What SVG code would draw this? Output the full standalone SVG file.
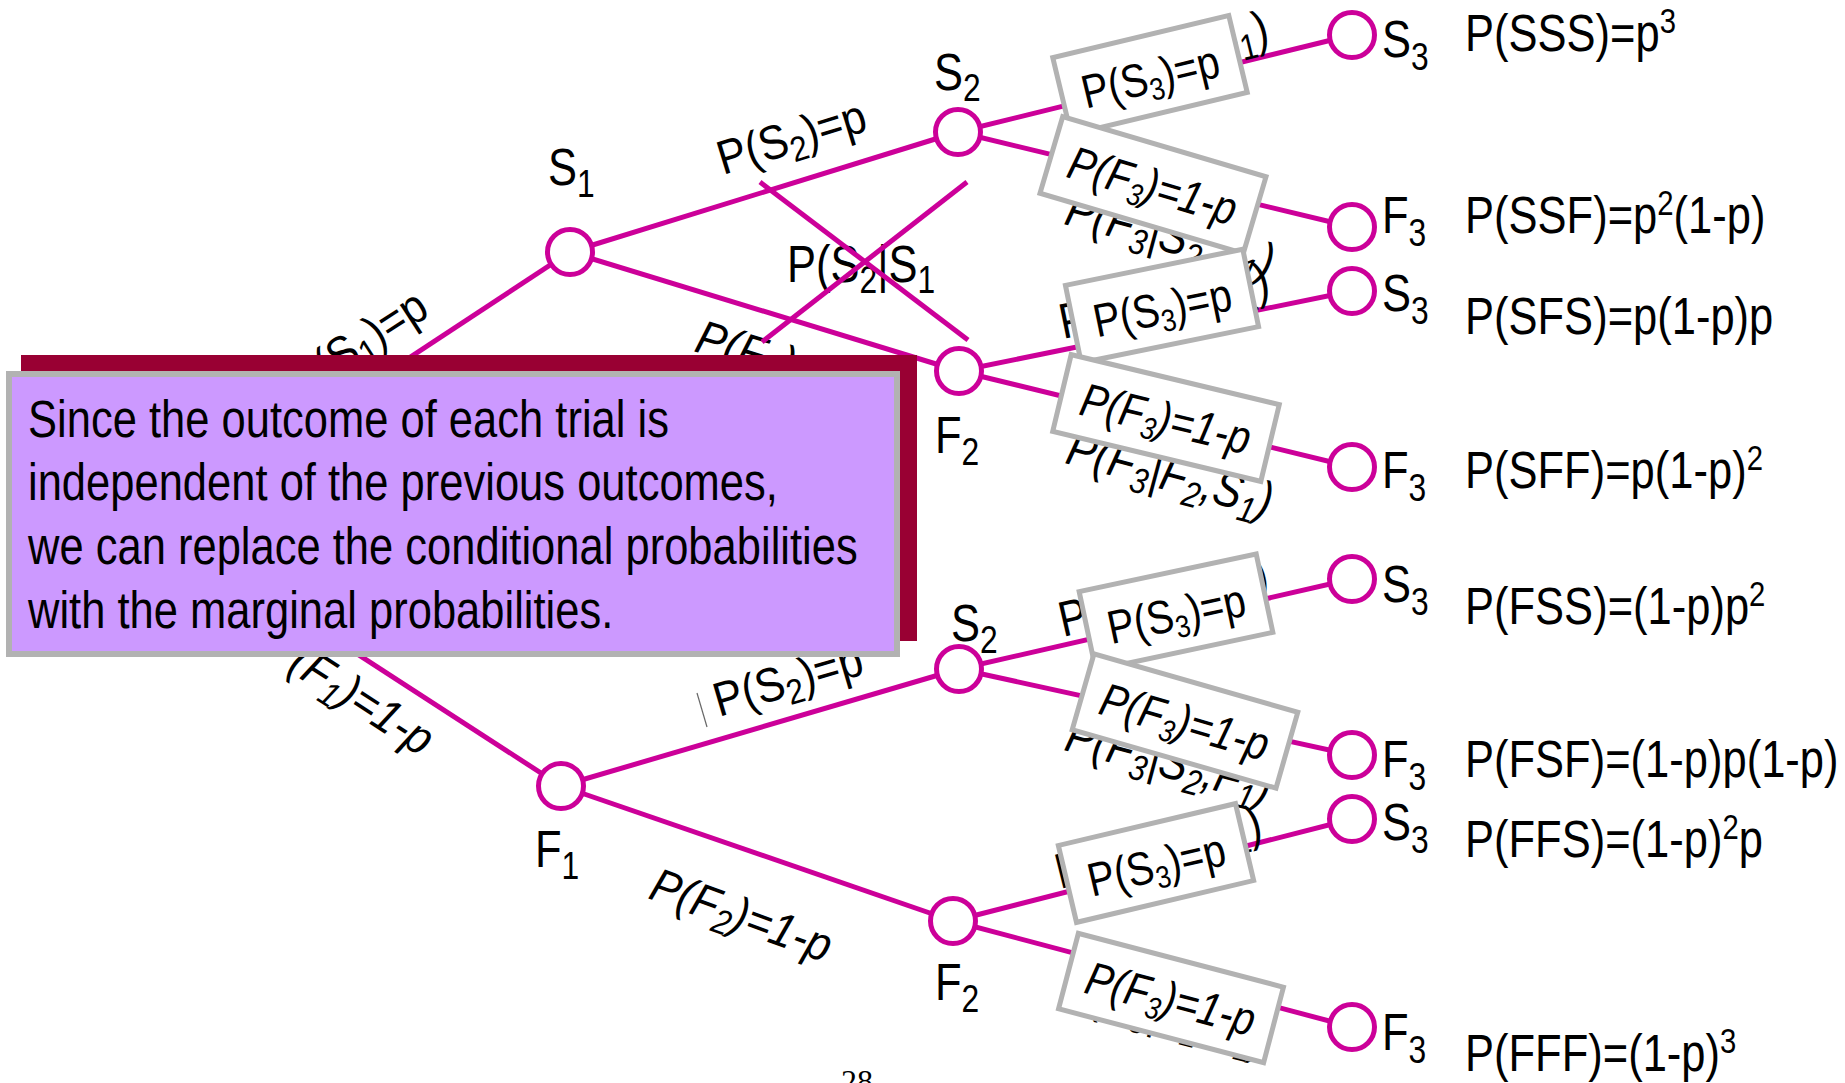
<svg xmlns="http://www.w3.org/2000/svg" width="1845" height="1083" viewBox="0 0 1845 1083">
<style>
.ln{stroke:#CC0099;stroke-width:5;fill:none}
.nd{fill:#fff;stroke:#CC0099;stroke-width:5}
.t{font-family:"Liberation Sans",Arial,Helvetica,sans-serif;fill:#000}
.i{font-style:italic}
.f52{font-size:52px}
.f50{font-size:50px}
.f48{font-size:48px}
.f47{font-size:47px}
.bx{fill:#fff;stroke:#B2B2B2;stroke-width:5}
</style>
<rect width="1845" height="1083" fill="#fff"/>

<g id="connectors">
<line class="ln" x1="157" y1="524" x2="570" y2="252"/>
<line class="ln" x1="157" y1="524" x2="561" y2="786"/>
<line class="ln" x1="570" y1="252" x2="958" y2="132"/>
<line class="ln" x1="570" y1="252" x2="959" y2="371"/>
<line class="ln" x1="561" y1="786" x2="959" y2="669"/>
<line class="ln" x1="561" y1="786" x2="953" y2="921"/>
<line class="ln" x1="958" y1="132" x2="1352" y2="35"/>
<line class="ln" x1="958" y1="132" x2="1352" y2="227"/>
<line class="ln" x1="959" y1="371" x2="1352" y2="291"/>
<line class="ln" x1="959" y1="371" x2="1352" y2="467"/>
<line class="ln" x1="959" y1="669" x2="1352" y2="579"/>
<line class="ln" x1="959" y1="669" x2="1352" y2="755"/>
<line class="ln" x1="953" y1="921" x2="1352" y2="819"/>
<line class="ln" x1="953" y1="921" x2="1352" y2="1027"/>
</g>

<g id="conditional-labels">
<text class="t f50" transform="translate(1062,95) rotate(-13.8) scale(0.85,1)">P(S<tspan font-size="36" dy="10">3</tspan><tspan dy="-10">|S</tspan><tspan font-size="36" dy="10">2</tspan><tspan dy="-10">,S</tspan><tspan font-size="36" dy="10">1</tspan><tspan dy="-10">)</tspan></text>
<text class="t f50 i" transform="translate(1063,224) rotate(15) scale(0.85,1)">P(F<tspan font-size="36" dy="10">3</tspan><tspan dy="-10">|S</tspan><tspan font-size="36" dy="10">2</tspan><tspan dy="-10">,S</tspan><tspan font-size="36" dy="10">1</tspan><tspan dy="-10">)</tspan></text>
<text class="t f50" transform="translate(1063,339) rotate(-11.5) scale(0.85,1)">P(S<tspan font-size="36" dy="10">3</tspan><tspan dy="-10">|F</tspan><tspan font-size="36" dy="10">2</tspan><tspan dy="-10">,S</tspan><tspan font-size="36" dy="10">1</tspan><tspan dy="-10">)</tspan></text>
<text class="t f50 i" transform="translate(1064,463) rotate(15) scale(0.85,1)">P(F<tspan font-size="36" dy="10">3</tspan><tspan dy="-10">|F</tspan><tspan font-size="36" dy="10">2</tspan><tspan dy="-10">,S</tspan><tspan font-size="36" dy="10">1</tspan><tspan dy="-10">)</tspan></text>
<text class="t f50" transform="translate(1063,637) rotate(-12.9) scale(0.85,1)">P(S<tspan font-size="36" dy="10">3</tspan><tspan dy="-10">|S</tspan><tspan font-size="36" dy="10">2</tspan><tspan dy="-10">,F</tspan><tspan font-size="36" dy="10">1</tspan><tspan dy="-10">)</tspan></text>
<text class="t f50 i" transform="translate(1063,750) rotate(15) scale(0.85,1)">P(F<tspan font-size="36" dy="10">3</tspan><tspan dy="-10">|S</tspan><tspan font-size="36" dy="10">2</tspan><tspan dy="-10">,F</tspan><tspan font-size="36" dy="10">1</tspan><tspan dy="-10">)</tspan></text>
<text class="t f50" transform="translate(1060,889) rotate(-14) scale(0.85,1)">P(S<tspan font-size="36" dy="10">3</tspan><tspan dy="-10">|F</tspan><tspan font-size="36" dy="10">2</tspan><tspan dy="-10">,F</tspan><tspan font-size="36" dy="10">1</tspan><tspan dy="-10">)</tspan></text>
<text class="t f50 i" transform="translate(1063,1003) rotate(15) scale(0.85,1)">P(F<tspan font-size="36" dy="10">3</tspan><tspan dy="-10">|F</tspan><tspan font-size="36" dy="10">2</tspan><tspan dy="-10">,F</tspan><tspan font-size="36" dy="10">1</tspan><tspan dy="-10">)</tspan></text>
</g>

<g id="box-A" transform="translate(1150,75) rotate(-13.5)">
<rect class="bx" x="-90.5" y="-39.5" width="181" height="79"/>
<text class="t f47" text-anchor="middle" transform="translate(0,18) scale(0.85,1)">P(S<tspan font-size="31" dy="8">3</tspan><tspan dy="-8">)=p</tspan></text>
</g>
<g id="box-B" transform="translate(1153,185) rotate(16.5)">
<rect class="bx" x="-106" y="-40" width="212" height="80"/>
<text class="t f47 i" text-anchor="middle" transform="translate(0,17) scale(0.85,1)">P(F<tspan font-size="31" dy="8">3</tspan><tspan dy="-8">)=1-p</tspan></text>
</g>
<g id="box-C" transform="translate(1162,306) rotate(-11.5)">
<rect class="bx" x="-90.5" y="-39.5" width="181" height="79"/>
<text class="t f47" text-anchor="middle" transform="translate(0,18) scale(0.85,1)">P(S<tspan font-size="31" dy="8">3</tspan><tspan dy="-8">)=p</tspan></text>
</g>
<g id="box-D" transform="translate(1166,418) rotate(13.5)">
<rect class="bx" x="-107" y="-39.5" width="214" height="79"/>
<text class="t f47 i" text-anchor="middle" transform="translate(0,17) scale(0.85,1)">P(F<tspan font-size="31" dy="8">3</tspan><tspan dy="-8">)=1-p</tspan></text>
</g>
<g id="box-E" transform="translate(1176,612) rotate(-12)">
<rect class="bx" x="-90.5" y="-40" width="181" height="80"/>
<text class="t f47" text-anchor="middle" transform="translate(0,18) scale(0.85,1)">P(S<tspan font-size="31" dy="8">3</tspan><tspan dy="-8">)=p</tspan></text>
</g>
<g id="box-F" transform="translate(1185,721) rotate(16)">
<rect class="bx" x="-106" y="-39.5" width="212" height="79"/>
<text class="t f47 i" text-anchor="middle" transform="translate(0,17) scale(0.85,1)">P(F<tspan font-size="31" dy="8">3</tspan><tspan dy="-8">)=1-p</tspan></text>
</g>
<g id="box-G" transform="translate(1156,863) rotate(-13.3)">
<rect class="bx" x="-91" y="-39.5" width="182" height="79"/>
<text class="t f47" text-anchor="middle" transform="translate(0,18) scale(0.85,1)">P(S<tspan font-size="31" dy="8">3</tspan><tspan dy="-8">)=p</tspan></text>
</g>
<g id="box-H" transform="translate(1171,998) rotate(14.7)">
<rect class="bx" x="-106" y="-39" width="212" height="78"/>
<text class="t f47 i" text-anchor="middle" transform="translate(0,17) scale(0.85,1)">P(F<tspan font-size="31" dy="8">3</tspan><tspan dy="-8">)=1-p</tspan></text>
</g>

<g id="node-S1">
<circle class="nd" cx="570" cy="252" r="22.5"/>
<text class="t f52" transform="translate(548,185) scale(0.837,1)">S<tspan font-size="38" dy="12">1</tspan></text>
</g>
<g id="node-S2-upper">
<circle class="nd" cx="958" cy="132" r="22.5"/>
<text class="t f52" transform="translate(934,90) scale(0.837,1)">S<tspan font-size="38" dy="11">2</tspan></text>
</g>
<g id="node-F2-upper">
<circle class="nd" cx="959" cy="371" r="22.5"/>
<text class="t f52" transform="translate(935,453) scale(0.837,1)">F<tspan font-size="38" dy="12">2</tspan></text>
</g>
<g id="node-F1">
<circle class="nd" cx="561" cy="786" r="22.5"/>
<text class="t f52" transform="translate(535,867) scale(0.837,1)">F<tspan font-size="38" dy="12">1</tspan></text>
</g>
<g id="node-S2-lower">
<circle class="nd" cx="959" cy="669" r="22.5"/>
<text class="t f52" transform="translate(951,641) scale(0.837,1)">S<tspan font-size="38" dy="12">2</tspan></text>
</g>
<g id="node-F2-lower">
<circle class="nd" cx="953" cy="921" r="22.5"/>
<text class="t f52" transform="translate(935,1000) scale(0.837,1)">F<tspan font-size="38" dy="12">2</tspan></text>
</g>

<g id="leaf-SSS">
<circle class="nd" cx="1352" cy="35" r="22.5"/>
<text class="t f52" transform="translate(1382,57) scale(0.837,1)">S<tspan font-size="38" dy="13">3</tspan></text>
</g>
<g id="leaf-SSF">
<circle class="nd" cx="1352" cy="227" r="22.5"/>
<text class="t f52" transform="translate(1382,233) scale(0.837,1)">F<tspan font-size="38" dy="13">3</tspan></text>
</g>
<g id="leaf-SFS">
<circle class="nd" cx="1352" cy="291" r="22.5"/>
<text class="t f52" transform="translate(1382,311) scale(0.837,1)">S<tspan font-size="38" dy="13">3</tspan></text>
</g>
<g id="leaf-SFF">
<circle class="nd" cx="1352" cy="467" r="22.5"/>
<text class="t f52" transform="translate(1382,488) scale(0.837,1)">F<tspan font-size="38" dy="13">3</tspan></text>
</g>
<g id="leaf-FSS">
<circle class="nd" cx="1352" cy="579" r="22.5"/>
<text class="t f52" transform="translate(1382,602) scale(0.837,1)">S<tspan font-size="38" dy="13">3</tspan></text>
</g>
<g id="leaf-FSF">
<circle class="nd" cx="1352" cy="755" r="22.5"/>
<text class="t f52" transform="translate(1382,777) scale(0.837,1)">F<tspan font-size="38" dy="13">3</tspan></text>
</g>
<g id="leaf-FFS">
<circle class="nd" cx="1352" cy="819" r="22.5"/>
<text class="t f52" transform="translate(1382,840) scale(0.837,1)">S<tspan font-size="38" dy="13">3</tspan></text>
</g>
<g id="leaf-FFF">
<circle class="nd" cx="1352" cy="1027" r="22.5"/>
<text class="t f52" transform="translate(1382,1050) scale(0.837,1)">F<tspan font-size="38" dy="13">3</tspan></text>
</g>

<g id="branch-labels">
<text class="t f48" transform="translate(303,398) rotate(-33) scale(0.9,1)">P(S<tspan font-size="35" dy="9">1</tspan><tspan dy="-9">)=p</tspan></text>
<text class="t f48 i" transform="translate(262,654) rotate(33) scale(0.9,1)">P(F<tspan font-size="35" dy="9">1</tspan><tspan dy="-9">)=1-p</tspan></text>
<text class="t f48" transform="translate(723,175) rotate(-17) scale(0.9,1)">P(S<tspan font-size="35" dy="9">2</tspan><tspan dy="-9">)=p</tspan></text>
<text class="t f48 i" transform="translate(693,351) rotate(17) scale(0.9,1)">P(F<tspan font-size="35" dy="9">2</tspan><tspan dy="-9">)=1-p</tspan></text>
<text class="t f48" transform="translate(719,717) rotate(-16.4) scale(0.9,1)">P(S<tspan font-size="35" dy="9">2</tspan><tspan dy="-9">)=p</tspan></text>
<text class="t f48 i" transform="translate(647,898) rotate(20) scale(0.9,1)">P(F<tspan font-size="35" dy="9">2</tspan><tspan dy="-9">)=1-p</tspan></text>
<line x1="697" y1="693" x2="707" y2="727" stroke="#666" stroke-width="1.2"/>
</g>

<g id="crossed-out">
<text class="t f52" transform="translate(787,282) scale(0.837,1)">P(S<tspan font-size="38" dy="11">2</tspan><tspan dy="-11">|S</tspan><tspan font-size="38" dy="11">1</tspan></text>
<line class="ln" x1="760" y1="182" x2="968" y2="340"/>
<line class="ln" x1="967" y1="182" x2="762" y2="342"/>
</g>

<g id="callout">
<rect x="21" y="355" width="896" height="286" fill="#990033"/>
<rect x="9" y="374" width="888" height="280" fill="#CC99FF" stroke="#B2B2B2" stroke-width="6"/>
<text class="t f52" transform="translate(28,437) scale(0.837,1)">Since the outcome of each trial is</text>
<text class="t f52" transform="translate(28,500) scale(0.837,1)">independent of the previous outcomes,</text>
<text class="t f52" transform="translate(28,564) scale(0.837,1)">we can replace the conditional probabilities</text>
<text class="t f52" transform="translate(28,628) scale(0.837,1)">with the marginal probabilities.</text>
</g>

<g id="outcomes">
<text class="t f52" transform="translate(1465,51) scale(0.837,1)">P(SSS)=p<tspan font-size="35" dy="-18">3</tspan></text>
<text class="t f52" transform="translate(1465,233) scale(0.837,1)">P(SSF)=p<tspan font-size="35" dy="-18">2</tspan><tspan dy="18">(1-p)</tspan></text>
<text class="t f52" transform="translate(1465,334) scale(0.837,1)">P(SFS)=p(1-p)p</text>
<text class="t f52" transform="translate(1465,488) scale(0.837,1)">P(SFF)=p(1-p)<tspan font-size="35" dy="-18">2</tspan></text>
<text class="t f52" transform="translate(1465,624) scale(0.837,1)">P(FSS)=(1-p)p<tspan font-size="35" dy="-18">2</tspan></text>
<text class="t f52" transform="translate(1465,777) scale(0.837,1)">P(FSF)=(1-p)p(1-p)</text>
<text class="t f52" transform="translate(1465,857) scale(0.837,1)">P(FFS)=(1-p)<tspan font-size="35" dy="-18">2</tspan><tspan dy="18">p</tspan></text>
<text class="t f52" transform="translate(1465,1071) scale(0.837,1)">P(FFF)=(1-p)<tspan font-size="35" dy="-18">3</tspan></text>
</g>

<text x="841" y="1092" font-family="'Liberation Serif','Times New Roman',serif" font-size="32" fill="#000">28</text>
</svg>
